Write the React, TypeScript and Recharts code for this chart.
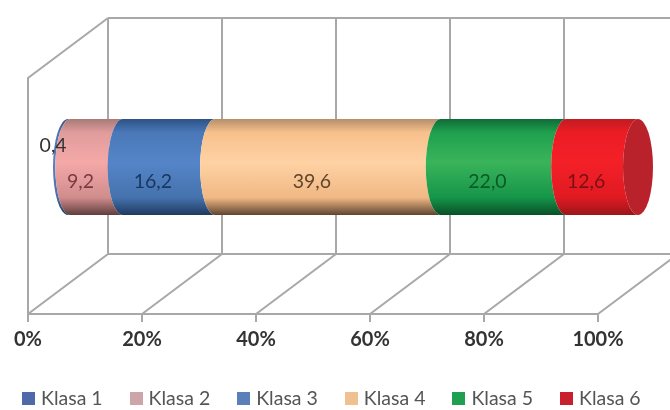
import React from "react";
import { BarChart, Bar, XAxis, YAxis, CartesianGrid, Legend, LabelList } from "recharts";

const categories = ["Szkoła"];
const seriesNames = ["Klasa 1", "Klasa 2", "Klasa 3", "Klasa 4", "Klasa 5", "Klasa 6"];
const seriesValues = [0.4, 9.2, 16.2, 39.6, 22.0, 12.6];
const tickValues = [0, 20, 40, 60, 80, 100];

const legendColors = ["#4f6aa8", "#cda4a8", "#5b7fb8", "#f0c090", "#1fa050", "#c8202c"];
const labelColors = ["#333333", "#7a3a40", "#17375e", "#5f452c", "#0a5a28", "#7a1015"];
const gradients = [
  ["#2f4f85", "#4f74b5", "#5a80c0", "#4a6eab", "#1f3558"],
  ["#a87a76", "#e09c9c", "#f5a8a8", "#d08c8c", "#5f3d3d"],
  ["#2c5286", "#4a78b8", "#5585c8", "#4572ad", "#1e3a60"],
  ["#b58e6a", "#f7c08c", "#ffd2a4", "#f0b884", "#5e4530"],
  ["#0f6b38", "#1fa04e", "#3ab45a", "#159549", "#0a4f28"],
  ["#c01c22", "#ec1c24", "#f42028", "#e01a22", "#9a161a"],
];
const stopOffsets = [0, 0.14, 0.45, 0.82, 1];

const DEPTH_X = 80;
const DEPTH_Y = 60;
const GRID = "#a8a8a8";
const FONT = "Lato, 'Open Sans', sans-serif";

const rows = categories.map((name) => {
  const row: Record<string, string | number> = { name };
  seriesNames.forEach((s, i) => (row[s] = seriesValues[i]));
  return row;
});

function GridLine(props: any) {
  const { x1, y1, y2, index, width } = props;
  const top = Math.min(y1, y2);
  const bottom = Math.max(y1, y2);
  const bx = x1 + DEPTH_X;
  const common = { stroke: GRID, strokeWidth: 2, fill: "none" };
  return (
    <g>
      <path d={`M${x1},${bottom} L${bx},${bottom - DEPTH_Y} L${bx},${top - DEPTH_Y}`} {...common} />
      {index === 0 && (
        <>
          <path d={`M${x1},${bottom} L${x1},${top} L${bx},${top - DEPTH_Y}`} {...common} />
          <path d={`M${bx},${bottom - DEPTH_Y} H${bx + width}`} {...common} />
          <path d={`M${bx},${top - DEPTH_Y} H${bx + width}`} {...common} />
        </>
      )}
    </g>
  );
}

function Segment(props: any) {
  const { x, y, width, height, idx } = props;
  const rx = 15;
  const ry = height / 2;
  const x0 = x + DEPTH_X / 2;
  const x1 = x0 + width;
  const top = y - DEPTH_Y / 2 + 1;
  const bottom = top + height;
  const d = `M${x0},${top} A${rx},${ry} 0 0 0 ${x0},${bottom} L${x1},${bottom} A${rx},${ry} 0 0 1 ${x1},${top} Z`;
  return (
    <g>
      <path d={d} fill={`url(#seg${idx})`} />
      {idx === seriesNames.length - 1 && (
        <ellipse cx={x1} cy={top + ry} rx={rx} ry={ry} fill="#b9222a" />
      )}
    </g>
  );
}

function SegmentLabel(props: any) {
  const { x, y, width, height, value, idx } = props;
  const dy = idx === 0 ? -22 : 14;
  return (
    <text
      x={x + width / 2 + 24}
      y={y + height / 2 - DEPTH_Y / 2 + dy}
      textAnchor="middle"
      dominantBaseline="central"
      fontFamily={FONT}
      fontSize={19.5}
      fill={labelColors[idx]}
    >
      {Number(value).toFixed(1).replace(".", ",")}
    </text>
  );
}

function LegendRow(props: any) {
  return (
    <div style={{ position: "relative", height: 24, fontFamily: FONT, fontSize: 19.5, color: "#555" }}>
      {(props.payload || []).map((p: any, i: number) => (
        <span key={p.value} style={{ position: "absolute", left: 22 + i * 107.6, top: 0, whiteSpace: "nowrap", lineHeight: "24px" }}>
          <span style={{ display: "inline-block", width: 13, height: 13, background: p.color, marginRight: 6 }} />
          {p.value}
        </span>
      ))}
    </div>
  );
}

export default function App() {
  return (
    <div style={{ position: "absolute", left: 0, top: 0, width: 670, height: 410, overflow: "hidden", background: "#fff", filter: "blur(0.6px)" }}>
      <BarChart
        width={670}
        height={410}
        data={rows}
        layout="vertical"
        margin={{ left: 28, right: 72, top: 78, bottom: 32 }}
        style={{ overflow: "visible" }}
      >
        <defs>
          {gradients.map((g, i) => (
            <linearGradient key={i} id={`seg${i}`} x1="0" y1="0" x2="0" y2="1">
              {g.map((c, j) => (
                <stop key={j} offset={stopOffsets[j]} stopColor={c} />
              ))}
            </linearGradient>
          ))}
        </defs>
        <CartesianGrid horizontal={false} vertical={(p: any) => <GridLine key={p.key ?? p.index} {...p} />} />
        <XAxis
          type="number"
          domain={[0, 100]}
          ticks={tickValues}
          tickFormatter={(v: number) => `${v}%`}
          axisLine={{ stroke: GRID, strokeWidth: 2 }}
          tickLine={{ stroke: GRID, strokeWidth: 2 }}
          tickSize={8}
          tickMargin={10}
          interval={0}
          height={40}
          tick={{ fontFamily: FONT, fontSize: 20, fontWeight: 700, fill: "#333" }}
        />
        <YAxis type="category" dataKey="name" hide />
        <Legend
          content={<LegendRow />}
          wrapperStyle={{ position: "absolute", left: 0, top: 386, width: 670, height: 24, bottom: "auto" }}
        />
        {seriesNames.map((s, i) => (
          <Bar
            key={s}
            dataKey={s}
            stackId="a"
            fill={legendColors[i]}
            barSize={96}
            isAnimationActive={false}
            shape={(p: any) => <Segment {...p} idx={i} />}
          >
            <LabelList dataKey={s} content={(p: any) => <SegmentLabel {...p} idx={i} />} />
          </Bar>
        ))}
      </BarChart>
    </div>
  );
}
